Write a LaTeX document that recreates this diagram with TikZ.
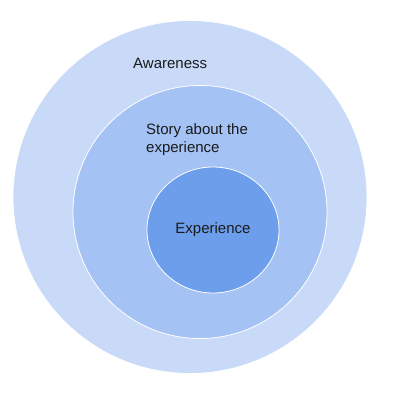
\documentclass[tikz,border=0pt]{standalone}
\usepackage{fontspec}
\setmainfont{Liberation Sans}
\usetikzlibrary{shapes.geometric}
\definecolor{awareblue}{HTML}{C9DAF8}
\definecolor{storyblue}{HTML}{A4C2F4}
\definecolor{experblue}{HTML}{6D9EEB}
\definecolor{labelgray}{HTML}{1A1A1A}

\begin{document}
\begin{tikzpicture}[x=1pt, y=-1pt, font=\fontsize{15}{18}\selectfont,
  ring/.style={ellipse, draw=white, line width=0.8pt, inner sep=0pt},
  label/.style={text=labelgray, inner sep=0pt, align=left}]
  \useasboundingbox (0,0) rectangle (400,400);
  \node[ring, fill=awareblue, minimum width=354pt, minimum height=353pt] (aware) at (190,197) {};
  \node[ring, fill=storyblue, minimum width=254pt, minimum height=253pt] (story) at (200,212) {};
  \node[ring, fill=experblue, minimum width=132pt, minimum height=126pt] (exper) at (213,230) {};
  \node[label, anchor=west] (awaretext) at (133,63) {Awareness};
  \node[label, anchor=west] (storytext) at (146,140) {Story about the\\experience};
  \node[label] (expertext) at (exper.center) {Experience};
\end{tikzpicture}
\end{document}
